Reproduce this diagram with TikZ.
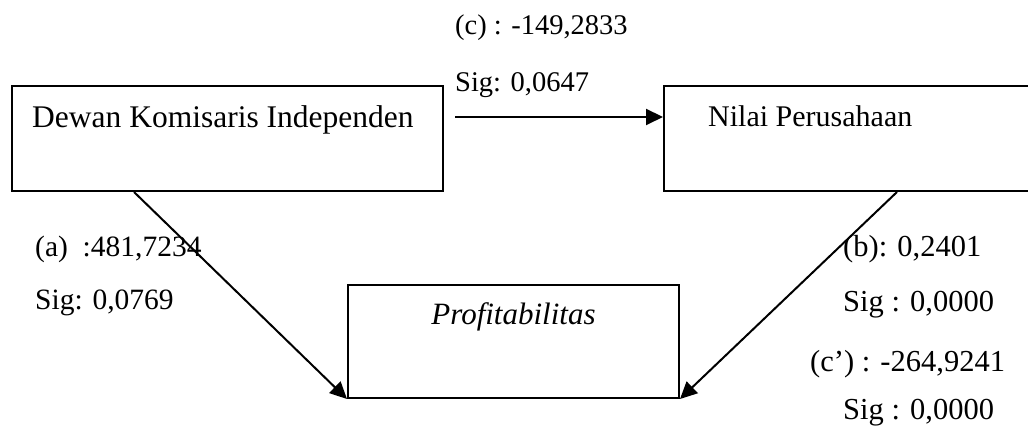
\documentclass[tikz,border=0pt]{standalone}
\usepackage{fontspec}
\setmainfont{Liberation Serif}
\usetikzlibrary{arrows.meta,calc}
\begin{document}
\begin{tikzpicture}[x=1pt,y=1pt,
  box/.style={draw,line width=2pt,rectangle,inner sep=0pt},
  txt/.style={inner sep=0pt,anchor=base west,font=\fontsize{29.5}{34}\selectfont},
  big/.style={inner sep=0pt,font=\fontsize{31.5}{36}\selectfont},
  conn/.style={line width=2pt,-{Triangle[length=17pt,width=16pt]}}]
\useasboundingbox (0,0) rectangle (1028,430);
\node[box,minimum width=431pt,minimum height=105pt] (b1) at (227.5,291.5) {};
\node[box,minimum width=380pt,minimum height=105pt] (b2) at (854,291.5) {};
\node[box,minimum width=331pt,minimum height=113pt] (b3) at (513.5,88.5) {};
\node[big,anchor=base west] (t1) at (32,302) {Dewan Komisaris Independen};
\node[txt,font=\fontsize{30}{35}\selectfont] (t2) at (708,303) {Nilai Perusahaan};
\node[big,anchor=base,font=\fontsize{31}{36}\selectfont\itshape] (t3) at (513.5,105) {Profitabilitas};
\coordinate (cs) at (455,313);
\draw[conn] (cs) -- (cs -| b2.west);
\draw[conn] ($(b1.south west)+(123,0)$) -- (b3.south west);
\draw[conn] ($(b2.south west)+(234,0)$) -- (b3.south east);
\node[txt,font=\fontsize{28.5}{34}\selectfont] (lc) at (455,395) {(c) : -149,2833};
\node[txt,font=\fontsize{28.5}{34}\selectfont] (lcs) at (455,338) {Sig: 0,0647};
\node[txt] (la) at (35,173) {(a)\ \ :481,7234};
\node[txt] (las) at (35,120) {Sig: 0,0769};
\node[txt,font=\fontsize{30.5}{35}\selectfont] (lb) at (843,173) {(b): 0,2401};
\node[txt,font=\fontsize{30.5}{35}\selectfont] (lbs) at (843,118) {Sig : 0,0000};
\node[txt,font=\fontsize{30.5}{35}\selectfont] (lcp) at (810,58) {(c’) : -264,9241};
\node[txt,font=\fontsize{30.5}{35}\selectfont] (lcps) at (843,10) {Sig : 0,0000};
\end{tikzpicture}
\end{document}
